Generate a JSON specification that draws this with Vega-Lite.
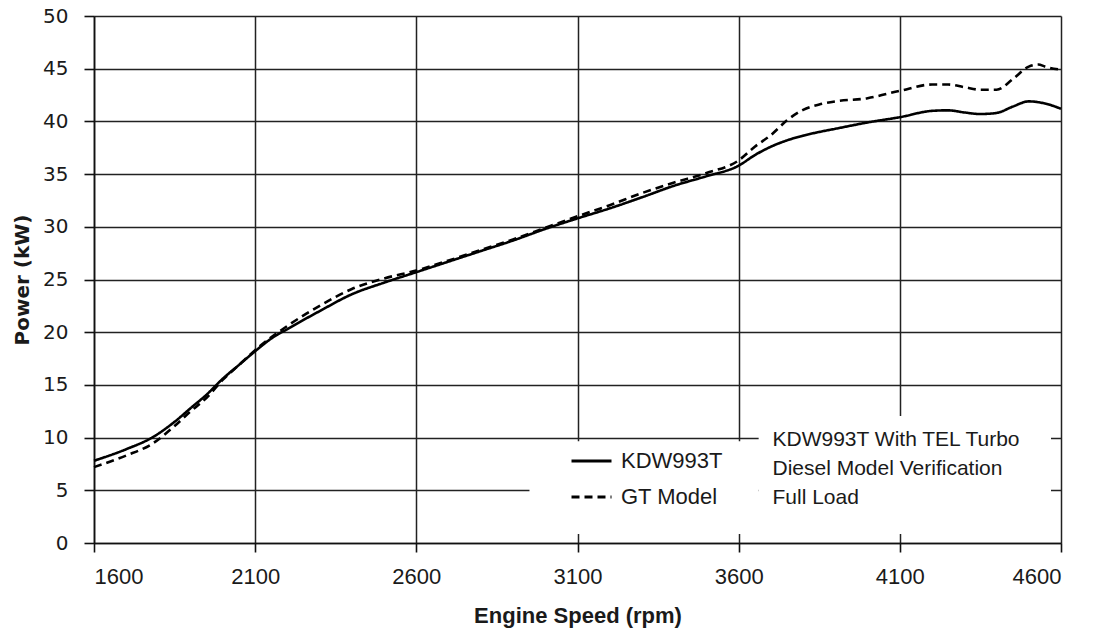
{
  "$schema": "https://vega.github.io/schema/vega-lite/v6.json",
  "autosize": "none",
  "width": 967,
  "height": 527,
  "padding": {"left": 94, "top": 16, "right": 32, "bottom": 89},
  "background": "white",
  "config": {
    "view": {"stroke": null},
    "axis": {
      "domainColor": "#111",
      "domainWidth": 1.6,
      "tickColor": "#111",
      "tickWidth": 1.6,
      "gridColor": "#222",
      "gridWidth": 1.5,
      "gridOpacity": 1,
      "labelColor": "#1a1a1a",
      "titleColor": "#1a1a1a"
    }
  },
  "datasets": {
    "curves": [
      {"rpm": 1600, "power": 7.8, "series": "KDW993T"},
      {"rpm": 1700, "power": 8.9, "series": "KDW993T"},
      {"rpm": 1780, "power": 10.0, "series": "KDW993T"},
      {"rpm": 1850, "power": 11.5, "series": "KDW993T"},
      {"rpm": 1900, "power": 12.8, "series": "KDW993T"},
      {"rpm": 1950, "power": 14.1, "series": "KDW993T"},
      {"rpm": 2000, "power": 15.6, "series": "KDW993T"},
      {"rpm": 2050, "power": 16.9, "series": "KDW993T"},
      {"rpm": 2100, "power": 18.2, "series": "KDW993T"},
      {"rpm": 2150, "power": 19.4, "series": "KDW993T"},
      {"rpm": 2200, "power": 20.3, "series": "KDW993T"},
      {"rpm": 2300, "power": 22.0, "series": "KDW993T"},
      {"rpm": 2400, "power": 23.6, "series": "KDW993T"},
      {"rpm": 2500, "power": 24.7, "series": "KDW993T"},
      {"rpm": 2600, "power": 25.7, "series": "KDW993T"},
      {"rpm": 2700, "power": 26.7, "series": "KDW993T"},
      {"rpm": 2800, "power": 27.7, "series": "KDW993T"},
      {"rpm": 2900, "power": 28.7, "series": "KDW993T"},
      {"rpm": 3000, "power": 29.8, "series": "KDW993T"},
      {"rpm": 3100, "power": 30.8, "series": "KDW993T"},
      {"rpm": 3200, "power": 31.75, "series": "KDW993T"},
      {"rpm": 3300, "power": 32.8, "series": "KDW993T"},
      {"rpm": 3400, "power": 33.9, "series": "KDW993T"},
      {"rpm": 3500, "power": 34.8, "series": "KDW993T"},
      {"rpm": 3600, "power": 35.8, "series": "KDW993T"},
      {"rpm": 3650, "power": 36.8, "series": "KDW993T"},
      {"rpm": 3700, "power": 37.6, "series": "KDW993T"},
      {"rpm": 3750, "power": 38.2, "series": "KDW993T"},
      {"rpm": 3800, "power": 38.65, "series": "KDW993T"},
      {"rpm": 3850, "power": 39.0, "series": "KDW993T"},
      {"rpm": 3900, "power": 39.3, "series": "KDW993T"},
      {"rpm": 4000, "power": 39.9, "series": "KDW993T"},
      {"rpm": 4100, "power": 40.4, "series": "KDW993T"},
      {"rpm": 4200, "power": 41.0, "series": "KDW993T"},
      {"rpm": 4250, "power": 41.05, "series": "KDW993T"},
      {"rpm": 4300, "power": 40.85, "series": "KDW993T"},
      {"rpm": 4350, "power": 40.7, "series": "KDW993T"},
      {"rpm": 4400, "power": 40.8, "series": "KDW993T"},
      {"rpm": 4450, "power": 41.4, "series": "KDW993T"},
      {"rpm": 4500, "power": 41.9, "series": "KDW993T"},
      {"rpm": 4550, "power": 41.7, "series": "KDW993T"},
      {"rpm": 4600, "power": 41.2, "series": "KDW993T"},
      {"rpm": 1600, "power": 7.2, "series": "GT Model"},
      {"rpm": 1700, "power": 8.3, "series": "GT Model"},
      {"rpm": 1780, "power": 9.4, "series": "GT Model"},
      {"rpm": 1850, "power": 11.1, "series": "GT Model"},
      {"rpm": 1900, "power": 12.5, "series": "GT Model"},
      {"rpm": 1950, "power": 13.8, "series": "GT Model"},
      {"rpm": 2000, "power": 15.5, "series": "GT Model"},
      {"rpm": 2050, "power": 16.9, "series": "GT Model"},
      {"rpm": 2100, "power": 18.3, "series": "GT Model"},
      {"rpm": 2200, "power": 20.6, "series": "GT Model"},
      {"rpm": 2300, "power": 22.5, "series": "GT Model"},
      {"rpm": 2400, "power": 24.1, "series": "GT Model"},
      {"rpm": 2500, "power": 25.1, "series": "GT Model"},
      {"rpm": 2600, "power": 25.85, "series": "GT Model"},
      {"rpm": 2700, "power": 26.8, "series": "GT Model"},
      {"rpm": 2800, "power": 27.8, "series": "GT Model"},
      {"rpm": 2900, "power": 28.8, "series": "GT Model"},
      {"rpm": 3000, "power": 29.9, "series": "GT Model"},
      {"rpm": 3100, "power": 31.0, "series": "GT Model"},
      {"rpm": 3200, "power": 32.05, "series": "GT Model"},
      {"rpm": 3300, "power": 33.2, "series": "GT Model"},
      {"rpm": 3400, "power": 34.2, "series": "GT Model"},
      {"rpm": 3500, "power": 35.1, "series": "GT Model"},
      {"rpm": 3600, "power": 36.3, "series": "GT Model"},
      {"rpm": 3650, "power": 37.6, "series": "GT Model"},
      {"rpm": 3700, "power": 38.7, "series": "GT Model"},
      {"rpm": 3750, "power": 40.1, "series": "GT Model"},
      {"rpm": 3800, "power": 41.1, "series": "GT Model"},
      {"rpm": 3850, "power": 41.6, "series": "GT Model"},
      {"rpm": 3900, "power": 41.9, "series": "GT Model"},
      {"rpm": 4000, "power": 42.2, "series": "GT Model"},
      {"rpm": 4100, "power": 42.9, "series": "GT Model"},
      {"rpm": 4200, "power": 43.5, "series": "GT Model"},
      {"rpm": 4250, "power": 43.5, "series": "GT Model"},
      {"rpm": 4300, "power": 43.25, "series": "GT Model"},
      {"rpm": 4350, "power": 43.0, "series": "GT Model"},
      {"rpm": 4400, "power": 43.0, "series": "GT Model"},
      {"rpm": 4450, "power": 44.0, "series": "GT Model"},
      {"rpm": 4500, "power": 45.2, "series": "GT Model"},
      {"rpm": 4530, "power": 45.4, "series": "GT Model"},
      {"rpm": 4550, "power": 45.2, "series": "GT Model"},
      {"rpm": 4600, "power": 44.9, "series": "GT Model"}
    ],
    "boxes": [
      {"x1": 2951, "x2": 3662, "y1": 0.85, "y2": 9.65},
      {"x1": 3662, "x2": 4569, "y1": 0.85, "y2": 12.05}
    ],
    "notes": [
      {"rpm": 3705, "power": 9.77, "label": "KDW993T With TEL Turbo"},
      {"rpm": 3705, "power": 7.02, "label": "Diesel Model Verification"},
      {"rpm": 3705, "power": 4.27, "label": "Full Load"}
    ]
  },
  "layer": [
    {
      "data": {"name": "boxes"},
      "mark": {"type": "rect", "color": "white", "stroke": null},
      "encoding": {
        "x": {"field": "x1", "type": "quantitative", "scale": {"domain": [1600, 4600], "nice": false, "zero": false},
          "axis": {
            "title": "Engine Speed (rpm)",
            "values": [1600, 2100, 2600, 3100, 3600, 4100, 4600],
            "format": "d",
            "tickSize": 9,
            "labelFont": "Liberation Sans",
            "labelFontSize": 22,
            "labelPadding": 14,
            "titleFont": "Liberation Sans",
            "titleFontSize": 22,
            "titleFontWeight": "bold",
            "titlePadding": 18,
            "grid": true
          }},
        "x2": {"field": "x2"},
        "y": {"field": "y1", "type": "quantitative", "scale": {"domain": [0, 50], "nice": false},
          "axis": {
            "title": "Power (kW)",
            "values": [0, 5, 10, 15, 20, 25, 30, 35, 40, 45, 50],
            "tickSize": 10,
            "labelFont": "DejaVu Sans",
            "labelFontSize": 20,
            "labelPadding": 16,
            "titleFont": "DejaVu Sans",
            "titleFontSize": 20,
            "titleFontWeight": "bold",
            "titlePadding": 10,
            "grid": true
          }},
        "y2": {"field": "y2"}
      }
    },
    {
      "data": {"name": "curves"},
      "mark": {"type": "line", "interpolate": "monotone", "strokeWidth": 2.6, "color": "black"},
      "encoding": {
        "x": {"field": "rpm", "type": "quantitative"},
        "y": {"field": "power", "type": "quantitative"},
        "detail": {"field": "series"},
        "strokeDash": {
          "field": "series",
          "type": "nominal",
          "scale": {"domain": ["KDW993T", "GT Model"], "range": [[1, 0], [8, 5]]},
          "legend": {
            "title": null,
            "orient": "none",
            "legendX": 476,
            "legendY": 427,
            "padding": 0,
            "symbolType": "stroke",
            "symbolSize": 1600,
            "symbolStrokeWidth": 2.8,
            "symbolStrokeColor": "black",
            "clipHeight": 36,
            "rowPadding": 0,
            "labelFont": "Liberation Sans",
            "labelFontSize": 22,
            "labelColor": "#1a1a1a",
            "labelOffset": 8
          }
        }
      }
    },
    {
      "data": {"name": "notes"},
      "mark": {"type": "text", "align": "left", "baseline": "middle", "font": "Liberation Sans", "fontSize": 21, "color": "#1a1a1a"},
      "encoding": {
        "x": {"field": "rpm", "type": "quantitative"},
        "y": {"field": "power", "type": "quantitative"},
        "text": {"field": "label"}
      }
    }
  ]
}
